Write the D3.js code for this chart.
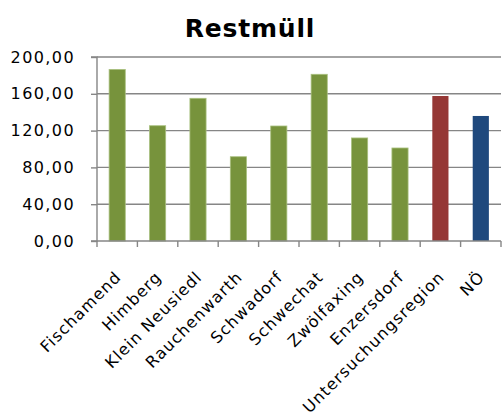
<!DOCTYPE html>
<html>
<head>
<meta charset="utf-8">
<script src="https://cdn.jsdelivr.net/npm/d3@7"></script>
<style>
  body { margin: 0; background: #fff; }
  svg { display: block; }
  text { font-family: Verdana, "DejaVu Sans", sans-serif; fill: #000; }
</style>
</head>
<body>
<svg id="chart" width="503" height="412"></svg>
<script>
// Restmüll per municipality, the study region and Lower Austria
const categories = ["Fischamend", "Himberg", "Klein Neusiedl", "Rauchenwarth", "Schwadorf",
  "Schwechat", "Zwölfaxing", "Enzersdorf", "Untersuchungsregion", "NÖ"];
const values = [186.5, 125.3, 155.1, 91.6, 125.0, 181.2, 112.0, 101.1, 157.6, 135.9];
const barColors = ["#77933C", "#77933C", "#77933C", "#77933C", "#77933C",
  "#77933C", "#77933C", "#77933C", "#953735", "#1F497D"];
const yTicks = [0, 40, 80, 120, 160, 200];
const title = "Restmüll";

const svg = d3.select("#chart");
const plot = { left: 97, right: 501, top: 57, bottom: 241 };

const x = d3.scaleBand().domain(categories).range([plot.left, plot.right]).paddingInner(0).paddingOuter(0);
const y = d3.scaleLinear().domain([0, 200]).range([plot.bottom, plot.top]);
const fmt = v => d3.format(".2f")(v).replace(".", ",");

// title
svg.append("text").attr("x", 250).attr("y", 37).attr("text-anchor", "middle")
  .style("font-size", "25px").style("font-weight", "bold").style("letter-spacing", "0.8px")
  .text(title);

// horizontal gridlines
svg.append("g").selectAll("line").data(yTicks.filter(d => d > 0)).join("line")
  .attr("x1", plot.left).attr("x2", plot.right)
  .attr("y1", d => y(d)).attr("y2", d => y(d))
  .attr("stroke", "#868686").attr("stroke-width", 1.4);

// bars
const bw = x.bandwidth() / 2.5;
svg.append("g").selectAll("rect").data(categories).join("rect")
  .attr("x", (d) => x(d) + (x.bandwidth() - bw) / 2)
  .attr("width", bw)
  .attr("y", (d, i) => y(values[i]))
  .attr("height", (d, i) => y(0) - y(values[i]))
  .attr("fill", (d, i) => barColors[i])
  .attr("stroke", (d, i) => i < 8 ? "#a9c07f" : "none")
  .attr("stroke-width", 0.8);

// y axis
const yAxis = d3.axisLeft(y).tickValues(yTicks).tickFormat(fmt).tickSize(6).tickPadding(16);
const gy = svg.append("g").attr("transform", `translate(${plot.left},0)`).call(yAxis);
gy.select(".domain").attr("stroke", "#868686").attr("stroke-width", 1.4)
  .attr("d", `M-6,${plot.top}H0V${plot.bottom}H-6`);
gy.selectAll(".tick line").attr("stroke", "#868686").attr("stroke-width", 1.4);
gy.selectAll(".tick text").style("font-size", "16px").style("letter-spacing", "1.4px")
  .attr("font-family", null);

// x axis: ticks at category boundaries
svg.append("line").attr("x1", plot.left).attr("x2", plot.right)
  .attr("y1", plot.bottom).attr("y2", plot.bottom)
  .attr("stroke", "#868686").attr("stroke-width", 1.4);
const bounds = categories.map(c => x(c)).concat([plot.right]);
svg.append("g").selectAll("line").data(bounds).join("line")
  .attr("x1", d => d).attr("x2", d => d).attr("y1", plot.bottom).attr("y2", plot.bottom + 6)
  .attr("stroke", "#868686").attr("stroke-width", 1.4);

// rotated category labels
svg.append("g").selectAll("text").data(categories).join("text")
  .attr("transform", d => `translate(${x(d) + x.bandwidth() / 2 + 1},${plot.bottom + 33}) rotate(-45)`)
  .attr("text-anchor", "end")
  .attr("dy", "0.35em")
  .style("font-size", "16px")
  .style("letter-spacing", "1.1px")
  .text(d => d);
</script>
</body>
</html>
